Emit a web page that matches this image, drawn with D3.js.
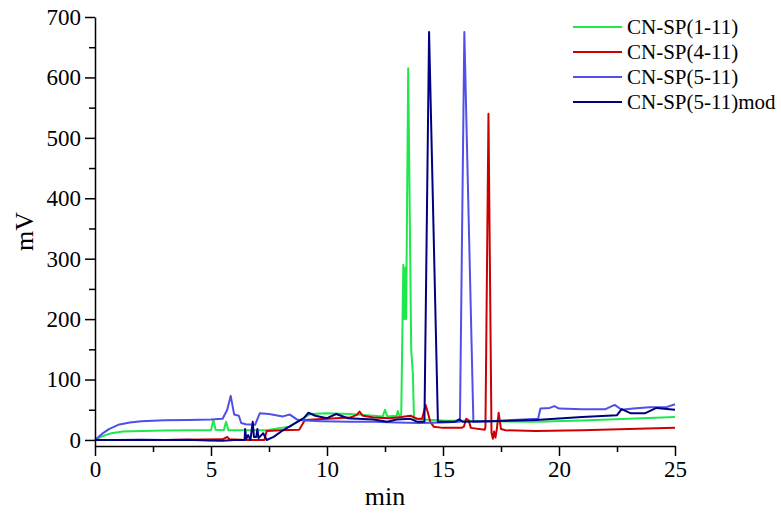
<!DOCTYPE html>
<html>
    <head>
        <meta charset="utf-8">
        <title>CN-SP chromatograms</title>
        <script src="https://d3js.org/d3.v7.min.js"></script>
        <style>
            body { margin: 0; background: #fff; }
            text { font-family: "Liberation Serif", "Times New Roman", serif; fill: #000; }
        </style>
    </head>
    <body>
        <div id="my_dataviz"></div>

        <script>

            // retention times (min) and signal (mV)
            var greenT = [0, 0.3, 0.7, 1.2, 2, 3, 4, 5.0, 5.1, 5.2, 5.55, 5.65, 5.75, 6.5, 7.0, 7.4, 8.0, 8.4, 8.8, 9.3, 10, 11, 12, 12.4, 12.5, 12.6, 13.0, 13.05, 13.12, 13.2, 13.29, 13.33, 13.37, 13.41, 13.5, 13.63, 13.7, 13.75, 14.5, 15, 17, 19, 21, 23, 25];
            var greenV = [0, 6, 11, 14, 15, 15.5, 16, 16, 33, 17, 16, 30, 16, 16, 16, 16, 20, 22, 32, 43, 44, 43, 40, 39, 50, 39, 40, 48, 40, 42, 290, 200, 285, 200, 615, 150, 110, 35, 33, 32, 31, 30, 32, 35, 38];

            var redT = [0, 3, 5.5, 5.7, 5.8, 6.5, 7.3, 7.4, 8.0, 8.8, 9.05, 10, 11, 11.3, 11.4, 11.55, 12, 12.7, 13.2, 13.6, 13.9, 14.1, 14.25, 14.35, 14.45, 14.6, 15, 15.8, 15.9, 16.0, 16.1, 16.2, 16.8, 16.83, 16.96, 17.09, 17.15, 17.2, 17.26, 17.32, 17.4, 17.5, 17.7, 19, 21, 23, 25];
            var redV = [0, 0, 1, 5, 1, 0, 0, 15, 16, 17, 33, 35, 37, 42, 47, 40, 37, 36, 38, 40, 35, 35, 58, 45, 30, 22, 20, 20, 22, 35, 33, 20, 17, 22, 540, 12, 2, 14, 4, 18, 45, 18, 16, 15, 16, 18, 20];

            var blueT = [0, 0.3, 0.6, 1.0, 1.5, 2, 3, 4, 5, 5.5, 5.7, 5.85, 6.0, 6.2, 6.3, 6.5, 6.9, 7.1, 7.5, 8.1, 8.4, 8.7, 9, 9.8, 11, 12, 13, 14, 15, 15.73, 15.92, 16.31, 17, 18, 19.1, 19.2, 19.6, 19.8, 20, 21, 22, 22.4, 22.7, 23.2, 23.9, 24.6, 25];
            var blueV = [0, 10, 18, 25, 29, 31, 32.5, 33, 34, 35, 50, 73, 42, 40, 28, 26, 25, 44, 43, 39, 42, 34, 32, 31, 30, 30, 29, 28, 29, 30, 675, 30, 31, 33, 35, 52, 53, 56, 52, 51, 51, 58, 50, 52, 54, 54, 59];

            var navyT = [0, 1, 2, 3, 4, 4.9, 5.5, 6.0, 6.45, 6.47, 6.52, 6.6, 6.7, 6.8, 6.85, 6.95, 7.0, 7.05, 7.25, 7.4, 7.7, 8.1, 8.5, 9.0, 9.2, 9.5, 10.0, 10.4, 10.9, 12, 12.6, 13, 13.6, 13.9, 14.2, 14.4, 14.78, 15.5, 15.7, 15.85, 17, 19, 21, 22.5, 22.7, 23.1, 23.7, 24.2, 25];
            var navyV = [0, 0, 0.5, 0, 0.5, -1, -1.5, 0, 0, 18, 2, 8, 0, 30, 5, 5, 18, 3, 11, 0, 5, 16, 25, 36, 45, 40, 36, 43, 36, 34, 30, 34, 35, 30, 30, 675, 30, 30, 34, 30, 31, 33, 38, 41, 51, 44, 44, 53, 50];

            var seriesNames = ["CN-SP(1-11)", "CN-SP(4-11)", "CN-SP(5-11)", "CN-SP(5-11)mod"];
            var seriesColors = ["#1ee84c", "#cc0000", "#5050e8", "#000080"];

            var xMajor = [0, 5, 10, 15, 20, 25];
            var xMinor = [2.5, 7.5, 12.5, 17.5, 22.5];
            var yMajor = [0, 100, 200, 300, 400, 500, 600, 700];
            var yMinor = [50, 150, 250, 350, 450, 550, 650];

            var series = [
                {name: seriesNames[0], color: seriesColors[0], values: d3.zip(greenT, greenV)},
                {name: seriesNames[1], color: seriesColors[1], values: d3.zip(redT, redV)},
                {name: seriesNames[2], color: seriesColors[2], values: d3.zip(blueT, blueV)},
                {name: seriesNames[3], color: seriesColors[3], values: d3.zip(navyT, navyV)}
            ];

            // plot area in page pixels ("top" is taken by window.top)
            var plotLeft = 95, plotRight = 675, plotTop = 17, plotBottom = 446;

            var svg = d3.select("#my_dataviz")
                .append("svg")
                .attr("width", 781)
                .attr("height", 513);

            var x = d3.scaleLinear().domain([0, 25]).range([plotLeft, plotRight]);
            var y = d3.scaleLinear().domain([-10, 700]).range([plotBottom, plotTop]);

            var line = d3.line()
                .x(function(d) { return x(d[0]); })
                .y(function(d) { return y(d[1]); });

            svg.selectAll("path.trace")
                .data(series)
                .enter()
                .append("path")
                .attr("class", "trace")
                .attr("fill", "none")
                .attr("stroke", function(d) { return d.color; })
                .attr("stroke-width", 2)
                .attr("stroke-linejoin", "round")
                .attr("d", function(d) { return line(d.values); });

            // X axis, major + minor ticks
            svg.append("g")
                .attr("transform", "translate(0," + plotBottom + ")")
                .call(d3.axisBottom(x).tickValues(xMajor).tickSize(10).tickSizeOuter(0).tickPadding(5));
            svg.append("g")
                .attr("transform", "translate(0," + plotBottom + ")")
                .call(d3.axisBottom(x).tickValues(xMinor).tickSize(6).tickFormat(""))
                .select(".domain").remove();

            // Y axis
            svg.append("g")
                .attr("transform", "translate(" + plotLeft + ",0)")
                .call(d3.axisLeft(y).tickValues(yMajor).tickSize(10).tickSizeOuter(0).tickPadding(4));
            svg.append("g")
                .attr("transform", "translate(" + plotLeft + ",0)")
                .call(d3.axisLeft(y).tickValues(yMinor).tickSize(6).tickFormat(""))
                .select(".domain").remove();

            svg.selectAll(".tick line, .domain").attr("stroke", "#000").attr("stroke-width", 1.5);
            svg.selectAll(".tick text")
                .style("font-family", '"Liberation Serif", "Times New Roman", serif')
                .style("font-size", "23px")
                .attr("fill", "#000");

            // axis titles
            svg.append("text")
                .attr("x", (plotLeft + plotRight) / 2)
                .attr("y", 505)
                .attr("text-anchor", "middle")
                .style("font-size", "26px")
                .text("min");

            svg.append("text")
                .attr("transform", "translate(33," + ((plotTop + plotBottom) / 2) + ")rotate(-90)")
                .attr("text-anchor", "middle")
                .style("font-size", "26px")
                .text("mV");

            // legend
            var legend = svg.selectAll("g.legend")
                .data(series)
                .enter()
                .append("g")
                .attr("class", "legend")
                .attr("transform", function(d, i) { return "translate(573," + (27 + i * 25) + ")"; });

            legend.append("line")
                .attr("x1", 0)
                .attr("x2", 49)
                .attr("stroke", function(d) { return d.color; })
                .attr("stroke-width", 2);

            legend.append("text")
                .attr("x", 54)
                .attr("y", 7)
                .style("font-size", "21px")
                .text(function(d) { return d.name; });

        </script>
    </body>
</html>
